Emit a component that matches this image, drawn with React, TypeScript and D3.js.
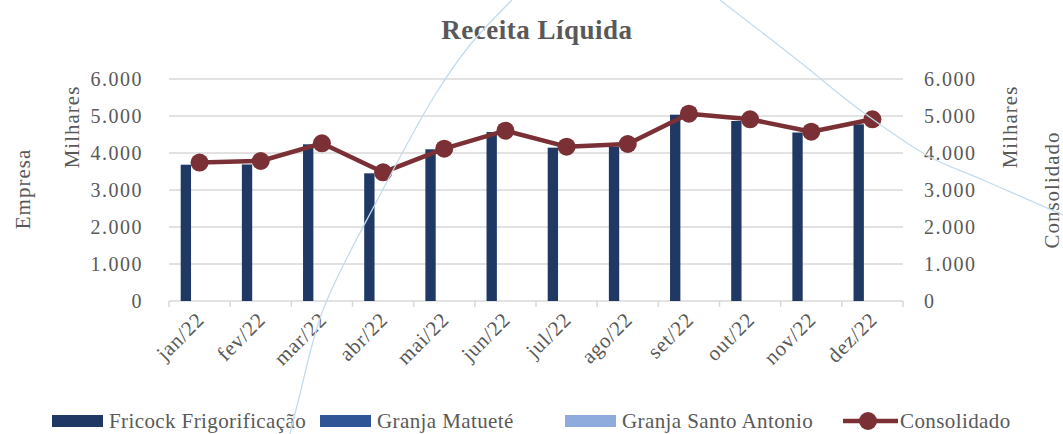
import React, { useEffect, useRef } from 'react';
import * as d3 from 'd3';

// dados (em milhares)
const meses = ['jan/22', 'fev/22', 'mar/22', 'abr/22', 'mai/22', 'jun/22', 'jul/22', 'ago/22', 'set/22', 'out/22', 'nov/22', 'dez/22'];
const fricock = [3684, 3690, 4235, 3451, 4100, 4568, 4144, 4171, 5035, 4865, 4554, 4775];
const matuete = [0, 0, 0, 0, 0, 0, 0, 0, 0, 0, 0, 0];
const santoAntonio = [0, 0, 0, 0, 0, 0, 0, 0, 0, 0, 0, 0];
const consolidado = [3740, 3784, 4262, 3478, 4117, 4603, 4171, 4243, 5062, 4910, 4576, 4910];
const yTicks = [0, 1000, 2000, 3000, 4000, 5000, 6000];
const series = ['Fricock Frigorificação', 'Granja Matueté', 'Granja Santo Antonio'];
const seriesColors = ['#203864', '#2F5597', '#8FAADC'];
// linha decorativa azul clara que atravessa a imagem
const curvaEsq: [number, number][] = [[290, 434], [299, 398], [323, 310], [380, 195], [435, 95], [470, 45], [512, 0]];
const curvaDir: [number, number][] = [[720, 0], [800, 62], [860, 110], [930, 157], [983, 180], [1063, 215]];

const FONT = "'Liberation Serif', 'DejaVu Serif', serif";
const TXT = '#595959';
const LINHA = '#7B3035';

export default function App() {
  const ref = useRef<SVGSVGElement>(null);

  useEffect(() => {
    const svg = d3.select(ref.current);
    svg.selectAll('*').remove();
    const W = 1063, H = 434;
    const left = 169, right = 903, top = 79, bottom = 301;

    const x = d3.scaleBand().domain(meses).range([left, right]).padding(0);
    const x1 = d3.scaleBand().domain(series).range([11.7, 11.7 + 31]).padding(0);
    const y = d3.scaleLinear().domain([0, 6000]).range([bottom, top]);

    svg.append('rect').attr('width', W).attr('height', H).attr('fill', '#fff');

    // título
    svg.append('text').attr('x', 537).attr('y', 39).attr('text-anchor', 'middle')
      .attr('font-family', FONT).attr('font-weight', 'bold').attr('font-size', 27)
      .attr('letter-spacing', 0.5).attr('fill', TXT)
      .text('Receita Líquida');

    // grades
    svg.append('g').selectAll('line').data(yTicks.filter(d => d > 0)).enter().append('line')
      .attr('x1', left).attr('x2', right).attr('y1', d => y(d)).attr('y2', d => y(d))
      .attr('stroke', '#d9d9d9').attr('stroke-width', 1.5);

    // eixo x
    const xAxis = svg.append('g');
    xAxis.append('line').attr('x1', left).attr('x2', right).attr('y1', bottom).attr('y2', bottom)
      .attr('stroke', '#d9d9d9').attr('stroke-width', 1.5);
    const bounds = meses.map(m => x(m) as number).concat([right]);
    xAxis.selectAll('line.tk').data(bounds).enter().append('line').attr('class', 'tk')
      .attr('x1', d => d).attr('x2', d => d).attr('y1', bottom).attr('y2', bottom + 6)
      .attr('stroke', '#d9d9d9').attr('stroke-width', 1.5);
    xAxis.selectAll('text').data(meses).enter().append('text')
      .attr('transform', d => `translate(${(x(d) as number) + x.bandwidth() / 2 + 6},${bottom + 20}) rotate(-45)`)
      .attr('text-anchor', 'end').attr('font-family', FONT).attr('font-size', 21)
      .attr('letter-spacing', 0.8).attr('fill', TXT)
      .text(d => d);

    // eixos y
    const fmt = (d: number) => d === 0 ? '0' : d3.format(',')(d).replace(/,/g, '.');
    svg.append('g').selectAll('text').data(yTicks).enter().append('text')
      .attr('x', 143).attr('y', d => y(d) + 7).attr('text-anchor', 'end')
      .attr('font-family', FONT).attr('font-size', 20).attr('letter-spacing', 1.5).attr('fill', TXT).text(fmt);
    svg.append('g').selectAll('text').data(yTicks).enter().append('text')
      .attr('x', 924).attr('y', d => y(d) + 7).attr('text-anchor', 'start')
      .attr('font-family', FONT).attr('font-size', 20).attr('letter-spacing', 1.5).attr('fill', TXT).text(fmt);

    const rotLabel = (cx: number, cy: number, t: string) =>
      svg.append('text').attr('transform', `translate(${cx},${cy}) rotate(-90)`).attr('text-anchor', 'middle')
        .attr('dominant-baseline', 'central').attr('font-family', FONT).attr('font-size', 21)
        .attr('letter-spacing', 1).attr('fill', TXT).text(t);
    rotLabel(23, 189, 'Empresa');
    rotLabel(72, 127, 'Milhares');
    rotLabel(1010, 127, 'Milhares');
    rotLabel(1052, 190, 'Consolidado');

    // barras
    const valores = [fricock, matuete, santoAntonio];
    series.forEach((s, si) => {
      svg.append('g').selectAll('rect').data(valores[si]).enter().append('rect')
        .attr('x', (d, i) => (x(meses[i]) as number) + (x1(s) as number))
        .attr('width', x1.bandwidth())
        .attr('y', d => y(d)).attr('height', d => bottom - y(d))
        .attr('fill', seriesColors[si]);
    });

    // linha consolidado
    const cx = (i: number) => (x(meses[i]) as number) + x.bandwidth() / 2;
    const line = d3.line<number>().x((d, i) => cx(i)).y(d => y(d));
    svg.append('path').datum(consolidado).attr('d', line).attr('fill', 'none')
      .attr('stroke', LINHA).attr('stroke-width', 4.5).attr('stroke-linejoin', 'round');
    svg.append('g').selectAll('circle').data(consolidado).enter().append('circle')
      .attr('cx', (d, i) => cx(i)).attr('cy', d => y(d)).attr('r', 9).attr('fill', LINHA);

    // legenda
    const leg = svg.append('g').attr('font-family', FONT).attr('font-size', 21)
      .attr('letter-spacing', 0.4).attr('fill', TXT);
    const legX = [52, 320, 565];
    series.forEach((s, i) => {
      leg.append('rect').attr('x', legX[i]).attr('y', 415).attr('width', 51).attr('height', 12).attr('fill', seriesColors[i]);
      leg.append('text').attr('x', legX[i] + 57).attr('y', 428).text(s);
    });
    leg.append('line').attr('x1', 843).attr('x2', 898).attr('y1', 421).attr('y2', 421)
      .attr('stroke', LINHA).attr('stroke-width', 4.5);
    leg.append('circle').attr('cx', 868).attr('cy', 421).attr('r', 9).attr('fill', LINHA);
    leg.append('text').attr('x', 900).attr('y', 428).text('Consolidado');

    // curva decorativa
    const curva = d3.line().curve(d3.curveCatmullRom);
    [curvaEsq, curvaDir].forEach(pts => {
      svg.append('path').attr('d', curva(pts)).attr('fill', 'none')
        .attr('stroke', '#c3dcec').attr('stroke-width', 1.3);
    });
  }, []);

  return (
    <div style={{ position: 'absolute', left: 0, top: 0 }}>
      <svg ref={ref} width={1063} height={434} style={{ display: 'block' }} />
    </div>
  );
}
